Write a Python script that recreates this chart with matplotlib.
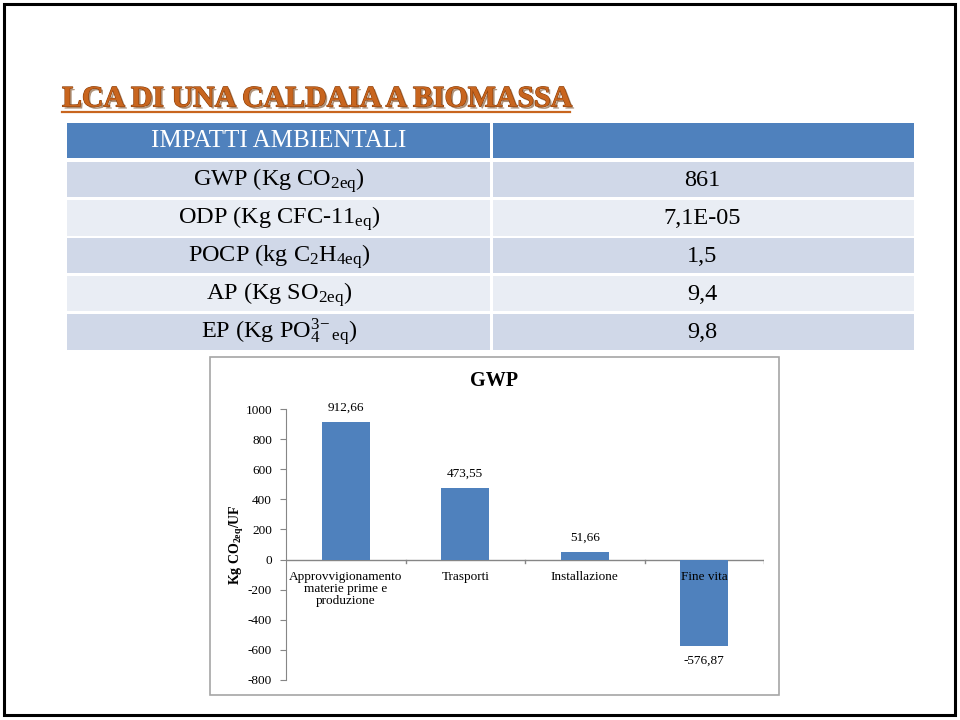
import matplotlib
matplotlib.use("Agg")
import matplotlib.pyplot as plt
import matplotlib.patheffects as pe
from matplotlib.patches import Rectangle

plt.rcParams["font.family"] = ["Liberation Serif", "DejaVu Serif"]
plt.rcParams["mathtext.fontset"] = "custom"
plt.rcParams["mathtext.rm"] = "Liberation Serif"
plt.rcParams["mathtext.it"] = "Liberation Serif:italic"
plt.rcParams["mathtext.bf"] = "Liberation Serif:bold"
plt.rcParams["axes.unicode_minus"] = False

# --- data ---
title = "LCA DI UNA CALDAIA A BIOMASSA"
table_header = "IMPATTI AMBIENTALI"
impact_labels = [
    r"GWP (Kg CO$_{\mathrm{2eq}}$)",
    r"ODP (Kg CFC-11$_{\mathrm{eq}}$)",
    r"POCP (kg C$_{\mathrm{2}}$H$_{\mathrm{4eq}}$)",
    r"AP (Kg SO$_{\mathrm{2eq}}$)",
    r"EP (Kg PO$_{\mathrm{4}}^{\mathrm{3\!-}}{}_{\mathrm{eq}}$)",
]
impact_values = ["861", "7,1E-05", "1,5", "9,4", "9,8"]

categories = ["Approvvigionamento\nmaterie prime e\nproduzione", "Trasporti",
              "Installazione", "Fine vita"]
gwp = [912.66, 473.55, 51.66, -576.87]

W, H = 960, 720
fig = plt.figure(figsize=(W / 100, H / 100), dpi=100)

# background axes in pixel coordinates
bg = fig.add_axes([0, 0, 1, 1])
bg.set_xlim(0, W)
bg.set_ylim(H, 0)
bg.axis("off")

# outer frame
bg.add_patch(Rectangle((4, 4), 951, 711, fill=False, ec="black", lw=2.2))

# slide title
t = bg.text(62, 99, title, fontsize=21.5, fontweight="bold", color="#C8651E",
            va="center", ha="left")
t.set_path_effects([pe.withSimplePatchShadow(offset=(1.5, -1.5), shadow_rgbFace="#7a4a20", alpha=0.6),
                    pe.withStroke(linewidth=0.8, foreground="#8a3e0a")])
bg.plot([62, 570], [112, 112], color="#C8651E", lw=1.6)

# table
x0, xm, x1 = 67, 491, 914
row_edges = [(123, 158), (162, 197), (200, 236), (238, 273), (276, 311), (314, 350)]
bg.add_patch(Rectangle((x0, 123), xm - 1.5 - x0, 35, color="#4F81BD", lw=0))
bg.add_patch(Rectangle((xm + 1.5, 123), x1 - xm - 1.5, 35, color="#4F81BD", lw=0))
bg.text((x0 + xm) / 2, 141, table_header, fontsize=18, color="white",
        ha="center", va="center")
for i, (lab, val) in enumerate(zip(impact_labels, impact_values)):
    ya, yb = row_edges[i + 1]
    c = "#D0D8E8" if i % 2 == 0 else "#E9EDF4"
    bg.add_patch(Rectangle((x0, ya), xm - 1.5 - x0, yb - ya, color=c, lw=0))
    bg.add_patch(Rectangle((xm + 1.5, ya), x1 - xm - 1.5, yb - ya, color=c, lw=0))
    yc = (ya + yb) / 2
    bg.text((x0 + xm) / 2, yc + 6, lab, fontsize=17.5, ha="center", va="baseline")
    bg.text((xm + x1) / 2, yc + 6, val, fontsize=17.5, ha="center", va="baseline")

# chart box
bg.add_patch(Rectangle((210, 357), 569, 338, fill=False, ec="#A6A6A6", lw=1.2))
bg.text(494, 381, "GWP", fontsize=14.5, fontweight="bold", ha="center", va="center")
bg.text(237, 545, r"Kg CO$_{\mathbf{2eq}}$/UF", fontsize=10, fontweight="bold",
        rotation=90, ha="center", va="center")

# bar chart axes (pixel -> fraction)
ax_l, ax_r, ax_t, ax_b = 286, 764, 409, 680
ax = fig.add_axes([ax_l / W, 1 - ax_b / H, (ax_r - ax_l) / W, (ax_b - ax_t) / H])
ax.patch.set_alpha(0)
xpos = list(range(len(categories)))
ax.bar(xpos, gwp, width=0.4, color="#4F81BD", zorder=2)
ax.set_xlim(-0.5, len(categories) - 0.5)
ax.set_ylim(-800, 1000)
ax.set_yticks(range(-800, 1001, 200))
ax.tick_params(axis="y", direction="out", length=4, color="#868686", labelsize=9.5, pad=6)
for s in ["top", "right", "bottom"]:
    ax.spines[s].set_visible(False)
ax.spines["left"].set_color("#868686")
ax.set_xticks([])
ax.axhline(0, color="#868686", lw=1, zorder=1)
for b in [0.5, 1.5, 2.5, 3.5]:
    ax.plot([b, b], [0, -25], color="#868686", lw=1, zorder=1)

for x, v, cat in zip(xpos, gwp, categories):
    if v >= 0:
        ax.annotate(f"{v:.2f}".replace(".", ","), (x, v), xytext=(0, 6),
                    textcoords="offset points", ha="center", va="bottom", fontsize=9.5)
    else:
        ax.annotate(f"{v:.2f}".replace(".", ","), (x, v), xytext=(0, -6),
                    textcoords="offset points", ha="center", va="top", fontsize=9.5)
    ax.annotate(cat, (x, 0), xytext=(0, -8), textcoords="offset points",
                ha="center", va="top", fontsize=9.5, linespacing=1.0, zorder=3)

fig.savefig("out.png", dpi=100)
